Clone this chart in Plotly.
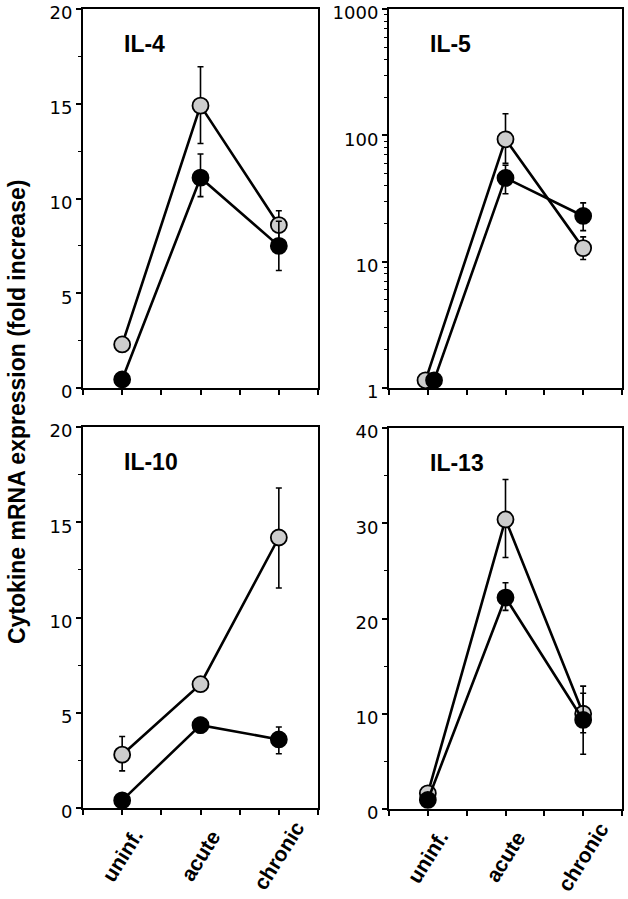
import plotly.graph_objects as go

# ---------------- data ----------------
categories = ["uninf.", "acute", "chronic"]
cat_pos = [1, 2, 3]

panels = ["IL-4", "IL-5", "IL-10", "IL-13"]

# open (stippled) circles
il4_gray = [2.3, 14.9, 8.6]
il4_gray_up = [0, 2.05, 0.75]
il4_gray_dn = [0, 2.0, 0.75]
# filled circles
il4_black = [0.45, 11.1, 7.5]
il4_black_up = [0, 1.25, 1.3]
il4_black_dn = [0, 1.0, 1.3]

il5_gray = [1.15, 93, 12.8]
il5_gray_up = [0, 55, 2.9]
il5_gray_dn = [0, 33, 2.4]
il5_black = [1.15, 46, 23]
il5_black_up = [0, 12, 6.2]
il5_black_dn = [0, 11.5, 5.4]

il10_gray = [2.8, 6.5, 14.2]
il10_gray_up = [0.95, 0.35, 2.6]
il10_gray_dn = [0.85, 0.35, 2.65]
il10_black = [0.4, 4.35, 3.6]
il10_black_up = [0, 0.4, 0.65]
il10_black_dn = [0, 0.4, 0.75]

il13_gray = [1.65, 30.4, 10.0]
il13_gray_up = [0, 4.2, 2.9]
il13_gray_dn = [0, 4.0, 2.0]
il13_black = [0.95, 22.2, 9.35]
il13_black_up = [0, 1.55, 2.8]
il13_black_dn = [0, 1.35, 3.6]

y_ranges = [[0, 20], [0, 3], [0, 20], [0, 40]]
y_major = [[0, 5, 10, 15, 20], [1, 10, 100, 1000], [0, 5, 10, 15, 20], [0, 10, 20, 30, 40]]
y_minor = [[2.5, 7.5, 12.5, 17.5],
           [m * d for d in (1, 10, 100) for m in range(2, 10)],
           [2.5, 7.5, 12.5, 17.5],
           [5, 15, 25, 35]]

# small horizontal dodge to separate overlapping markers (style)
dodge = {"IL-5": (-0.03, 0.08)}

series = {
    "IL-4": (il4_gray, il4_gray_up, il4_gray_dn, il4_black, il4_black_up, il4_black_dn),
    "IL-5": (il5_gray, il5_gray_up, il5_gray_dn, il5_black, il5_black_up, il5_black_dn),
    "IL-10": (il10_gray, il10_gray_up, il10_gray_dn, il10_black, il10_black_up, il10_black_dn),
    "IL-13": (il13_gray, il13_gray_up, il13_gray_dn, il13_black, il13_black_up, il13_black_dn),
}

# ---------------- layout geometry ----------------
W, H = 628, 899
x_dom = [[83 / W, 318 / W], [389 / W, 622 / W], [83 / W, 318 / W], [389 / W, 622 / W]]
y_dom = [[1 - 388 / H, 1 - 9 / H], [1 - 388 / H, 1 - 9 / H],
         [1 - 808 / H, 1 - 427 / H], [1 - 809 / H, 1 - 428 / H]]

fig = go.Figure()

TICK_FONT = dict(family="DejaVu Sans", size=18, color="black")
CAT_FONT = dict(family="Liberation Sans", size=21, color="black")

for i, name in enumerate(panels):
    g, gu, gd, b, bu, bd = series[name]
    xs = "x" if i == 0 else f"x{i+1}"
    ys = "y" if i == 0 else f"y{i+1}"
    dg, db = dodge.get(name, (0, 0))
    xg = [p if j else p + dg for j, p in enumerate(cat_pos)]
    xb = [p if j else p + db for j, p in enumerate(cat_pos)]
    fig.add_trace(go.Scatter(
        x=xg, y=g, xaxis=xs, yaxis=ys, mode="lines+markers",
        line=dict(color="black", width=2.6),
        marker=dict(size=16, color="#cdcdcd", line=dict(color="black", width=1.8)),
        error_y=dict(type="data", array=gu, arrayminus=gd, symmetric=False,
                     color="black", thickness=1.6, width=3),
        cliponaxis=False, showlegend=False, hoverinfo="skip"))
    fig.add_trace(go.Scatter(
        x=xb, y=b, xaxis=xs, yaxis=ys, mode="lines+markers",
        line=dict(color="black", width=2.6),
        marker=dict(size=16, color="black", line=dict(color="black", width=1.8)),
        error_y=dict(type="data", array=bu, arrayminus=bd, symmetric=False,
                     color="black", thickness=1.6, width=3),
        cliponaxis=False, showlegend=False, hoverinfo="skip"))

    xa = dict(domain=x_dom[i], range=[0.5, 3.5], anchor=ys, automargin=False,
              showline=True, mirror=True, linecolor="black", linewidth=2,
              showgrid=False, zeroline=False,
              ticks="outside", ticklen=5, tickwidth=1.6, tickcolor="black",
              tickvals=cat_pos, showticklabels=False,
              minor=dict(tickvals=[0.5, 1.5, 2.5, 3.5], ticks="outside", ticklen=5,
                         tickwidth=1.6, tickcolor="black", showgrid=False))
    ya = dict(domain=y_dom[i], range=y_ranges[i], anchor=xs, automargin=False,
              type="log" if name == "IL-5" else "linear",
              showline=True, mirror=True, linecolor="black", linewidth=2,
              showgrid=False, zeroline=False,
              ticks="outside", ticklen=5, tickwidth=1.6, tickcolor="black",
              tickvals=y_major[i], ticktext=[str(v) for v in y_major[i]],
              tickfont=TICK_FONT, ticklabeloverflow="allow", ticklabelshift=4,
              minor=dict(tickvals=y_minor[i], ticks="outside", ticklen=3,
                         tickwidth=1.4, tickcolor="black", showgrid=False))
    fig.layout["xaxis" if i == 0 else f"xaxis{i+1}"] = xa
    fig.layout["yaxis" if i == 0 else f"yaxis{i+1}"] = ya

    fig.add_annotation(text=f"<b>{name}</b>", xref=f"{xs} domain", yref=f"{ys} domain",
                       x=0.166, y=0.907, xanchor="left", yanchor="middle", showarrow=False,
                       font=dict(family="Liberation Sans", size=23, color="black"))

    # rotated category labels, centred under each tick (bottom row only)
    if i >= 2:
        for c, p in zip(categories, cat_pos):
            fig.add_annotation(text=f"<b>{c}</b>", xref=xs, yref=f"{ys} domain",
                               x=p, y=-0.125, xanchor="center", yanchor="middle",
                               textangle=-58, showarrow=False, font=CAT_FONT)

fig.add_annotation(text="<b>Cytokine mRNA expression (fold increase)</b>",
                   xref="paper", yref="paper", x=17 / W, y=1 - 412 / H,
                   textangle=-90, showarrow=False, xanchor="center", yanchor="middle",
                   font=dict(family="Liberation Sans", size=23, color="black"))

fig.update_layout(width=W, height=H, margin=dict(l=0, r=0, t=0, b=0, autoexpand=False),
                  paper_bgcolor="white", plot_bgcolor="white", hovermode=False)

fig.write_html("out.html", config={"displayModeBar": False},
               post_script="document.body.style.margin='0';")
